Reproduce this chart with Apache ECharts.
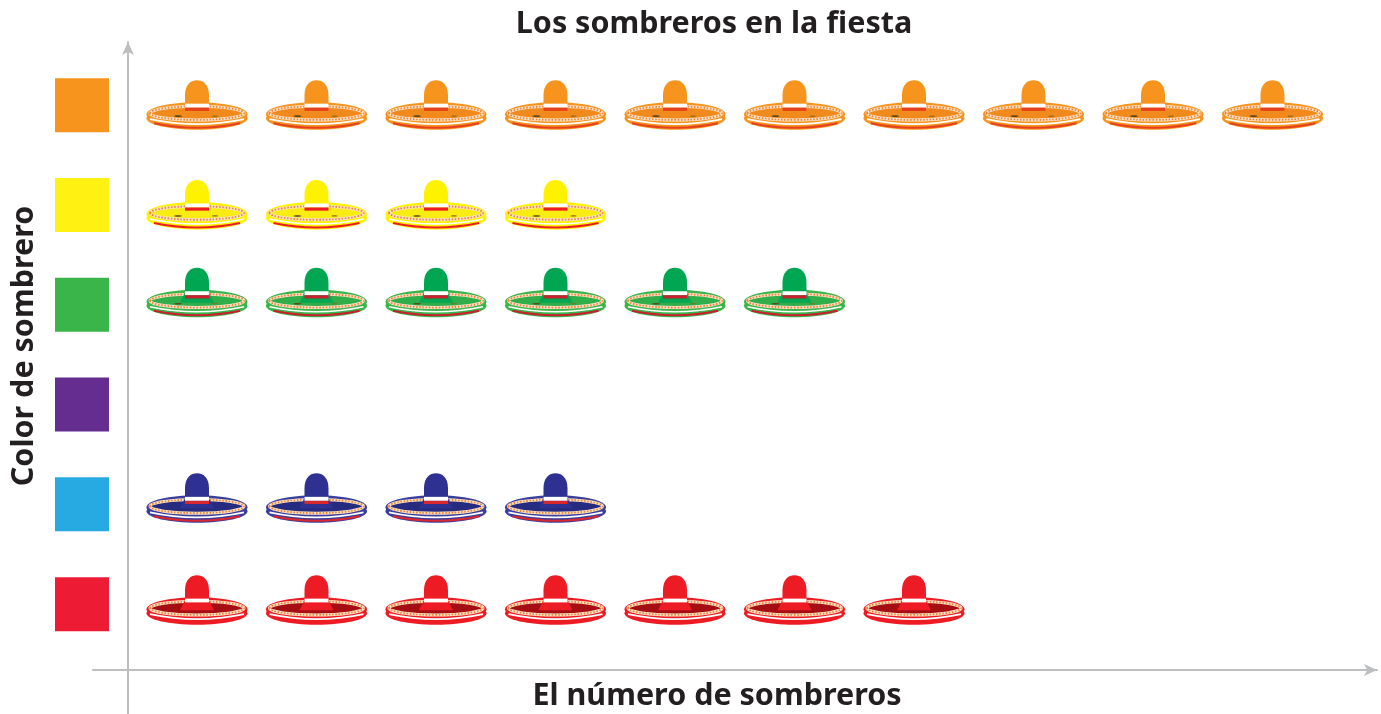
<!DOCTYPE html>
<html>
<head>
<meta charset="utf-8">
<style>
  html,body{margin:0;padding:0;background:#fff;}
  #main{width:1381px;height:714px;}
</style>
</head>
<body>
<div id="main"></div>
<script src="https://cdn.jsdelivr.net/npm/echarts@6/dist/echarts.min.js"></script>
<script>
// filas de arriba a abajo
const categories = ["Naranja","Amarillo","Verde","Morado","Azul","Rojo"]
const counts = [10,4,6,0,4,7]
const squareColors = ["#F7941D","#FFF212","#39B54A","#662D91","#27AAE1","#EE1B34"]
const hatColors = ["#F7941D","#FFF200","#00A651","#662D91","#2E3192","#ED1C24"]
const brimColors = ["#F7941D","#FFF200","#39B54A","#662D91","#3A3F9E","#ED1C24"]
const underColors = ["#F08A1C","#F9EC12","#2FAE49","#662D91","#262B80","#A50F14"]
const trimColors = ["#E5401F","#ED1C24","#C8202C","#ED1C24","#D9272E","#ED1C24"]
const hatLift = [0,0,-12,0,-6,-4]

const hatData=[]
categories.forEach((c,i)=>{
  for(let n=1;n<=counts[i];n++){
    hatData.push([n,categories.length-1-i+0.66,i])
  }
})
const squareData=categories.map((c,i)=>[0,categories.length-1-i+0.66,i])

const crownPath="M-12 6L-12 -10C-12 -21 -6 -25 0 -25C6 -25 12 -21 12 -10L12 6Z"

function renderHat(params,api){
  const p=api.coord([api.value(0),api.value(1)])
  const i=api.value(2)
  const main=hatColors[i],brim=brimColors[i],under=underColors[i],trim=trimColors[i]
  const isRed=i===5
  const children=[
    {type:"ellipse",shape:{cx:0,cy:13,rx:50.5,ry:11.5},style:{fill:brim}},
    {type:"ellipse",shape:{cx:0,cy:9,rx:50.5,ry:12},style:{fill:brim}},
    // encaje del ala
    {type:"ellipse",shape:{cx:0,cy:8,rx:47,ry:6.8},style:{fill:under,stroke:"#FBE3CA",lineWidth:3}},
    {type:"ellipse",shape:{cx:0,cy:8,rx:47,ry:6.8},style:{fill:"none",stroke:"#F0812F",lineWidth:1.8,lineDash:[1.5,1.7]}},
    {type:"bezierCurve",shape:{x1:-47,y1:14,x2:47,y2:14,cpx1:0,cpy1:24},style:{fill:"none",stroke:"#fff",lineWidth:1.7}},
    {type:"bezierCurve",shape:{x1:-43,y1:18,x2:43,y2:18,cpx1:0,cpy1:27},style:{fill:"none",stroke:trim,lineWidth:2}}
  ]
  if(i<3){
    // marcas oscuras bajo el ala
    children.push(
      {type:"ellipse",shape:{cx:-19,cy:11,rx:4,ry:0.8},style:{fill:"#5A4A1E"}},
      {type:"ellipse",shape:{cx:18,cy:11,rx:3,ry:0.6},style:{fill:"#8A6A20"}}
    )
  }
  if(i>=2){
    children.push({type:"path",shape:{pathData:"M-17 10L-12 0L12 0L17 10Z",x:-17,y:0,width:34,height:10},style:{fill:main}})
  }
  children.push(
    {type:"path",shape:{pathData:crownPath,x:-12,y:-25,width:24,height:31},style:{fill:main}},
    {type:"rect",shape:{x:-12,y:-1.5,width:24,height:4},style:{fill:"#fff"}},
    {type:"rect",shape:{x:-12,y:2.5,width:24,height:3.2},style:{fill:isRed?main:trim}}
  )
  return {
    type:"group",
    x:p[0]-50.5,
    y:p[1]+hatLift[i],
    children:children
  }
}

function renderSquare(params,api){
  const p=api.coord([0,api.value(1)])
  return {
    type:"rect",
    shape:{x:p[0]-73,y:p[1]-27,width:54,height:54},
    style:{fill:squareColors[api.value(2)]}
  }
}

const axisStyle={
  show:true,
  onZero:true,
  symbol:["none","arrow"],
  symbolSize:[9,13],
  lineStyle:{color:"#BCBEC0",width:2}
}
const nameStyle={
  fontFamily:"Noto Sans",
  fontWeight:"bold",
  fontSize:30.5,
  color:"#231F20"
}

let myChart=echarts.init(document.getElementById("main"),null,{renderer:"canvas"})
myChart.setOption({
  animation:false,
  title:{
    text:"Los sombreros en la fiesta",
    left:709,
    top:4,
    textAlign:"center",
    textStyle:nameStyle
  },
  grid:{left:93,right:4,top:42,bottom:0,outerBoundsMode:"none",containLabel:false},
  xAxis:{
    type:"value",
    min:-0.2929,
    max:10.452,
    name:"El número de sombreros",
    nameLocation:"middle",
    nameGap:-33,
    nameTextStyle:Object.assign({padding:[0,36,0,0]},nameStyle),
    axisLine:axisStyle,
    axisTick:{show:false},
    axisLabel:{show:false},
    splitLine:{show:false}
  },
  yAxis:{
    type:"value",
    min:-0.441,
    max:6.293,
    name:"Color de sombrero",
    nameLocation:"middle",
    nameGap:53,
    nameTextStyle:Object.assign({padding:[0,0,0,64]},nameStyle),
    axisLine:axisStyle,
    axisTick:{show:false},
    axisLabel:{show:false},
    splitLine:{show:false}
  },
  series:[
    {
      type:"custom",
      name:"Color",
      clip:false,
      silent:true,
      data:squareData,
      renderItem:renderSquare
    },
    {
      type:"custom",
      name:"Sombreros",
      clip:false,
      silent:true,
      data:hatData,
      renderItem:renderHat
    }
  ]
})
</script>
</body>
</html>
